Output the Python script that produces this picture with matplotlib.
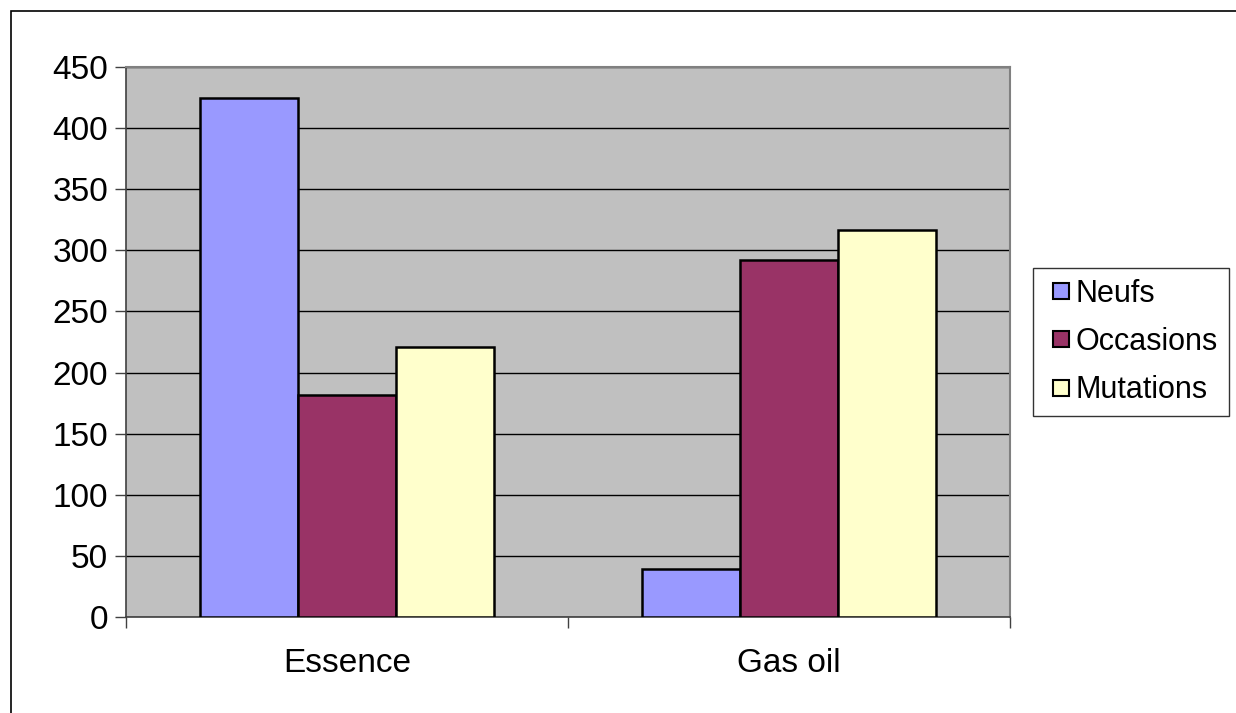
import matplotlib.pyplot as plt
import numpy as np
from matplotlib.patches import Rectangle
from matplotlib.lines import Line2D

categories = ['Essence', 'Gas oil']
series = ['Neufs', 'Occasions', 'Mutations']
neufs = [425, 39]
occasions = [182, 292]
mutations = [221, 317]
colours = ['#9999FF', '#993366', '#FFFFCC']

plt.rcParams['font.family'] = ['Liberation Sans', 'DejaVu Sans']

fig = plt.figure(figsize=(12.36, 7.13), dpi=100)
ax = fig.add_axes([126 / 1236, 1 - 617 / 713, 884 / 1236, 550 / 713])
ax.set_facecolor('#C0C0C0')

# outer chart frame (runs off the right and bottom edges)
fig.add_artist(Rectangle((11 / 1236, -0.1), 1.2, 1 - 11 / 713 + 0.1,
                         transform=fig.transFigure, fill=False,
                         edgecolor='black', lw=1.2))

x = np.arange(len(categories))
w = 0.222
for i, (name, vals) in enumerate(zip(series, [neufs, occasions, mutations])):
    ax.bar(x + (i - 1) * w, vals, w, color=colours[i], edgecolor='black',
           lw=1.8, label=name, zorder=3)

ax.set_ylim(0, 450)
ax.set_xlim(-0.5, 1.5)
ax.set_yticks(range(0, 451, 50))
ax.yaxis.grid(True, color='black', lw=1, zorder=1)
ax.set_axisbelow(True)

ax.set_xticks([-0.5, 0.5, 1.5])
ax.set_xticklabels([])
ax.set_xticks(x, minor=True)
ax.set_xticklabels(categories, minor=True, fontsize=24)
ax.tick_params(axis='x', which='minor', length=0, pad=22)
ax.tick_params(axis='x', which='major', length=8, width=1, color='#404040')
ax.tick_params(axis='y', length=8, width=1, color='#404040', labelsize=24, pad=5)

for s in ['top', 'right']:
    ax.spines[s].set_color('#808080')
    ax.spines[s].set_linewidth(1.5)
for s in ['left', 'bottom']:
    ax.spines[s].set_color('#404040')
    ax.spines[s].set_linewidth(1.2)

handles = [Line2D([], [], ls='none', marker='s', markersize=11.5,
                  markerfacecolor=c, markeredgecolor='black', markeredgewidth=1.5)
           for c in colours]
leg = ax.legend(handles, series, loc='center left',
                bbox_to_anchor=(1033 / 1236, 1 - 342 / 713),
                bbox_transform=fig.transFigure, fontsize=22, frameon=True,
                fancybox=False, edgecolor='black', handlelength=1.1,
                handletextpad=-0.05, labelspacing=0.6,
                borderpad=0.35, borderaxespad=0)
leg.get_frame().set_linewidth(1)

fig.savefig('out.png', dpi=100)
